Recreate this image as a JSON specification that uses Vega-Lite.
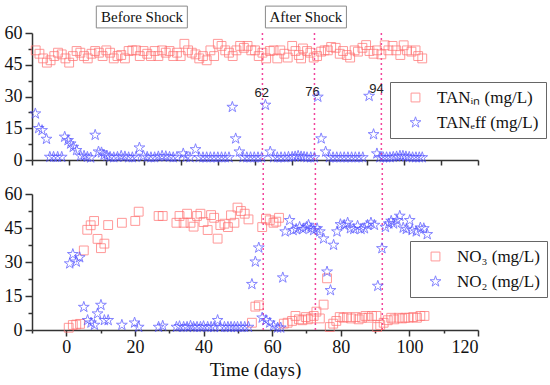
{
"$schema": "https://vega.github.io/schema/vega-lite/v6.json",
"padding": {"left": 4, "top": 5, "right": 0, "bottom": 0},
"bounds": "flush",
"spacing": 34,
"background": "white",
"config": {
  "view": {"stroke": null},
  "font": "Liberation Serif",
  "axis": {"grid": false, "domainColor": "#333", "domainWidth": 1.5, "tickColor": "#333", "tickWidth": 1.5, "labelFont": "Liberation Serif", "labelFontSize": 18, "labelColor": "#111", "titleFont": "Liberation Serif", "titleFontSize": 19, "titleFontWeight": "normal", "titleColor": "#111"},
  "legend": {"strokeColor": "#666", "fillColor": "white", "padding": 7, "labelFont": "Liberation Serif", "labelFontSize": 17, "labelColor": "#111", "symbolSize": 50, "symbolStrokeWidth": 1, "rowPadding": 7, "symbolOffset": 10, "labelOffset": 13}
},
"resolve": {"scale": {"color": "independent", "shape": "independent", "size": "independent"}, "legend": {"color": "independent", "shape": "independent", "size": "independent"}},
"datasets": {
  "boxes": [
    {"label": "Before Shock", "start": 17.3, "end": 41.8, "mid": 29.6},
    {"label": "After Shock", "start": 62.8, "end": 84.6, "mid": 73.7}
  ],
  "shocksTop": [{"day": 62}, {"day": 76}, {"day": 94}],
  "shockLabels": [
    {"label": "62", "day": 61.8, "value": 31.6},
    {"label": "76", "day": 75.5, "value": 32.1},
    {"label": "94", "day": 92.7, "value": 33.5}
  ],
  "shocksBottom": [{"day": 57.4}, {"day": 72.6}, {"day": 92.1}],
  "top": [
    {"series":"TANin","day":1,"value":51.8},{"series":"TANin","day":2,"value":50.2},{"series":"TANin","day":3,"value":48.0},{"series":"TANin","day":4,"value":46.0},{"series":"TANin","day":5,"value":47.1},{"series":"TANin","day":6,"value":49.1},{"series":"TANin","day":7,"value":50.7},{"series":"TANin","day":8,"value":49.9},{"series":"TANin","day":9,"value":48.0},{"series":"TANin","day":10,"value":46.0},
    {"series":"TANin","day":11,"value":49.1},{"series":"TANin","day":12,"value":51.5},{"series":"TANin","day":13,"value":50.7},{"series":"TANin","day":14,"value":49.1},{"series":"TANin","day":15,"value":48.0},{"series":"TANin","day":16,"value":50.2},{"series":"TANin","day":17,"value":51.5},{"series":"TANin","day":18,"value":50.7},{"series":"TANin","day":19,"value":49.1},{"series":"TANin","day":20,"value":51.8},
    {"series":"TANin","day":21,"value":50.7},{"series":"TANin","day":22,"value":48.0},{"series":"TANin","day":23,"value":49.1},{"series":"TANin","day":24,"value":49.6},{"series":"TANin","day":25,"value":48.0},{"series":"TANin","day":26,"value":51.5},{"series":"TANin","day":27,"value":51.8},{"series":"TANin","day":28,"value":51.8},{"series":"TANin","day":29,"value":49.1},{"series":"TANin","day":30,"value":51.5},
    {"series":"TANin","day":31,"value":50.2},{"series":"TANin","day":32,"value":49.1},{"series":"TANin","day":33,"value":51.5},{"series":"TANin","day":34,"value":49.1},{"series":"TANin","day":35,"value":51.8},{"series":"TANin","day":36,"value":50.7},{"series":"TANin","day":37,"value":51.5},{"series":"TANin","day":38,"value":49.1},{"series":"TANin","day":39,"value":50.7},{"series":"TANin","day":40,"value":49.1},
    {"series":"TANin","day":41,"value":54.9},{"series":"TANin","day":42,"value":51.8},{"series":"TANin","day":43,"value":50.7},{"series":"TANin","day":44,"value":49.9},{"series":"TANin","day":45,"value":48.0},{"series":"TANin","day":46,"value":49.1},{"series":"TANin","day":47,"value":47.1},{"series":"TANin","day":48,"value":51.8},{"series":"TANin","day":49,"value":49.1},{"series":"TANin","day":50,"value":54.9},
    {"series":"TANin","day":51,"value":53.9},{"series":"TANin","day":52,"value":51.8},{"series":"TANin","day":53,"value":50.7},{"series":"TANin","day":54,"value":49.1},{"series":"TANin","day":55,"value":51.8},{"series":"TANin","day":56,"value":53.9},{"series":"TANin","day":57,"value":53.0},{"series":"TANin","day":58,"value":53.9},{"series":"TANin","day":59,"value":51.8},{"series":"TANin","day":60,"value":51.8},
    {"series":"TANin","day":61,"value":49.1},{"series":"TANin","day":62,"value":50.7},{"series":"TANin","day":63,"value":48.0},{"series":"TANin","day":64,"value":51.5},{"series":"TANin","day":65,"value":51.8},{"series":"TANin","day":66,"value":48.0},
    {"series":"TANin","day":66.8,"value":51.8},{"series":"TANin","day":67.9,"value":50.2},{"series":"TANin","day":68.8,"value":48.4},{"series":"TANin","day":70.0,"value":53.9},{"series":"TANin","day":70.9,"value":51.5},{"series":"TANin","day":71.8,"value":49.6},{"series":"TANin","day":72.4,"value":48.0},{"series":"TANin","day":72.9,"value":52.7},{"series":"TANin","day":74.0,"value":51.5},{"series":"TANin","day":74.9,"value":50.7},
    {"series":"TANin","day":75.8,"value":48.4},{"series":"TANin","day":76.7,"value":49.1},{"series":"TANin","day":77.8,"value":51.2},{"series":"TANin","day":78.7,"value":51.8},{"series":"TANin","day":79.6,"value":51.8},{"series":"TANin","day":80.5,"value":53.4},{"series":"TANin","day":81.7,"value":53.0},{"series":"TANin","day":82.8,"value":50.2},{"series":"TANin","day":83.7,"value":51.5},{"series":"TANin","day":84.7,"value":49.6},
    {"series":"TANin","day":85.6,"value":48.4},{"series":"TANin","day":86.8,"value":51.8},{"series":"TANin","day":87.7,"value":51.2},{"series":"TANin","day":88.9,"value":53.0},{"series":"TANin","day":89.9,"value":54.3},{"series":"TANin","day":90.8,"value":51.5},{"series":"TANin","day":91.9,"value":50.2},{"series":"TANin","day":92.8,"value":51.8},{"series":"TANin","day":94.0,"value":49.9},{"series":"TANin","day":94.9,"value":54.2},
    {"series":"TANin","day":95.9,"value":51.8},{"series":"TANin","day":97.0,"value":53.9},{"series":"TANin","day":98.0,"value":51.8},{"series":"TANin","day":99.1,"value":49.6},{"series":"TANin","day":100.0,"value":54.2},{"series":"TANin","day":100.9,"value":51.8},{"series":"TANin","day":102.1,"value":51.2},{"series":"TANin","day":103.2,"value":51.8},{"series":"TANin","day":103.9,"value":49.1},{"series":"TANin","day":105.0,"value":48.0},
    {"series":"TANeff","day":0.9,"value":21.9},{"series":"TANeff","day":1.8,"value":15.0},{"series":"TANeff","day":2.7,"value":14.0},{"series":"TANeff","day":3.9,"value":9.9},{"series":"TANeff","day":4.8,"value":1.4},{"series":"TANeff","day":5.8,"value":1.4},{"series":"TANeff","day":6.9,"value":1.4},{"series":"TANeff","day":8.0,"value":1.4},{"series":"TANeff","day":8.8,"value":10.9},{"series":"TANeff","day":9.7,"value":9.3},
    {"series":"TANeff","day":10.4,"value":7.7},{"series":"TANeff","day":11.1,"value":6.1},{"series":"TANeff","day":12.0,"value":4.6},{"series":"TANeff","day":13.1,"value":1.9},{"series":"TANeff","day":14.0,"value":1.9},{"series":"TANeff","day":14.9,"value":1.4},{"series":"TANeff","day":15.8,"value":1.1},{"series":"TANeff","day":17.0,"value":11.8},{"series":"TANeff","day":17.9,"value":3.9},{"series":"TANeff","day":18.7,"value":3.5},
    {"series":"TANeff","day":19.4,"value":2.4},{"series":"TANeff","day":20.2,"value":1.9},{"series":"TANeff","day":21.0,"value":1.4},{"series":"TANeff","day":22,"value":1.2},{"series":"TANeff","day":23,"value":1.4},{"series":"TANeff","day":24,"value":1.9},{"series":"TANeff","day":25,"value":1.6},{"series":"TANeff","day":26,"value":1.2},{"series":"TANeff","day":27,"value":1.2},{"series":"TANeff","day":28,"value":1.4},
    {"series":"TANeff","day":28.9,"value":5.8},{"series":"TANeff","day":30,"value":1.9},{"series":"TANeff","day":31,"value":1.4},{"series":"TANeff","day":32,"value":1.2},{"series":"TANeff","day":33,"value":1.2},{"series":"TANeff","day":34,"value":1.6},{"series":"TANeff","day":35,"value":1.9},{"series":"TANeff","day":36,"value":1.7},{"series":"TANeff","day":37,"value":1.4},{"series":"TANeff","day":38,"value":1.2},
    {"series":"TANeff","day":39,"value":1.4},{"series":"TANeff","day":40.7,"value":3.0},{"series":"TANeff","day":41.5,"value":1.4},{"series":"TANeff","day":42.5,"value":1.2},{"series":"TANeff","day":44.0,"value":5.0},{"series":"TANeff","day":45,"value":1.2},{"series":"TANeff","day":46,"value":1.2},{"series":"TANeff","day":47,"value":1.2},{"series":"TANeff","day":48,"value":1.2},{"series":"TANeff","day":49,"value":1.2},
    {"series":"TANeff","day":50,"value":1.2},{"series":"TANeff","day":51,"value":1.2},{"series":"TANeff","day":52,"value":1.2},{"series":"TANeff","day":53,"value":1.2},{"series":"TANeff","day":53.9,"value":25.0},{"series":"TANeff","day":54.8,"value":10.1},{"series":"TANeff","day":55.8,"value":3.9},{"series":"TANeff","day":56.8,"value":1.2},{"series":"TANeff","day":57.8,"value":1.2},{"series":"TANeff","day":58.8,"value":1.2},
    {"series":"TANeff","day":59.8,"value":1.2},{"series":"TANeff","day":60.8,"value":1.2},{"series":"TANeff","day":61.8,"value":1.2},{"series":"TANeff","day":62.8,"value":26.0},{"series":"TANeff","day":64.1,"value":3.9},{"series":"TANeff","day":65,"value":1.2},{"series":"TANeff","day":66,"value":1.2},{"series":"TANeff","day":67,"value":1.2},{"series":"TANeff","day":68,"value":1.2},{"series":"TANeff","day":69,"value":1.4},
    {"series":"TANeff","day":70,"value":1.4},{"series":"TANeff","day":70.8,"value":1.6},{"series":"TANeff","day":71.6,"value":1.9},{"series":"TANeff","day":72.4,"value":1.6},{"series":"TANeff","day":73.2,"value":1.4},{"series":"TANeff","day":74,"value":1.2},{"series":"TANeff","day":75,"value":1.2},{"series":"TANeff","day":76,"value":1.2},{"series":"TANeff","day":76.9,"value":29.8},{"series":"TANeff","day":77.8,"value":10.1},
    {"series":"TANeff","day":79.0,"value":3.9},{"series":"TANeff","day":80,"value":1.2},{"series":"TANeff","day":81,"value":1.2},{"series":"TANeff","day":82,"value":1.2},{"series":"TANeff","day":83,"value":1.2},{"series":"TANeff","day":84,"value":1.2},{"series":"TANeff","day":85,"value":1.2},{"series":"TANeff","day":86,"value":1.2},{"series":"TANeff","day":87,"value":1.2},{"series":"TANeff","day":88,"value":1.2},
    {"series":"TANeff","day":89,"value":1.2},{"series":"TANeff","day":90.7,"value":30.2},{"series":"TANeff","day":91.9,"value":12.1},{"series":"TANeff","day":92.8,"value":3.0},{"series":"TANeff","day":93.6,"value":1.2},{"series":"TANeff","day":94.5,"value":1.2},{"series":"TANeff","day":95.4,"value":1.2},{"series":"TANeff","day":96.3,"value":1.2},{"series":"TANeff","day":97.2,"value":1.4},{"series":"TANeff","day":98.1,"value":1.6},
    {"series":"TANeff","day":99,"value":1.9},{"series":"TANeff","day":99.8,"value":1.9},{"series":"TANeff","day":100.6,"value":1.6},{"series":"TANeff","day":101.5,"value":1.4},{"series":"TANeff","day":102.4,"value":1.2},{"series":"TANeff","day":103.3,"value":1.2},{"series":"TANeff","day":104.2,"value":1.2},{"series":"TANeff","day":105,"value":1.2}
  ],
  "bottom": [
    {"series":"NO3","day":0.7,"value":1.0},{"series":"NO3","day":1.9,"value":2.2},{"series":"NO3","day":2.9,"value":2.4},{"series":"NO3","day":4.0,"value":2.7},{"series":"NO3","day":5.1,"value":35.1},{"series":"NO3","day":6.1,"value":44.2},{"series":"NO3","day":7.1,"value":46.2},{"series":"NO3","day":8.1,"value":48.1},{"series":"NO3","day":9.1,"value":40.2},{"series":"NO3","day":10.1,"value":36.1},
    {"series":"NO3","day":11.1,"value":38.1},{"series":"NO3","day":12.2,"value":46.3},{"series":"NO3","day":16.2,"value":47.3},{"series":"NO3","day":20.1,"value":48.1},{"series":"NO3","day":21.1,"value":52.2},{"series":"NO3","day":26.9,"value":50.3},{"series":"NO3","day":28.1,"value":50.3},{"series":"NO3","day":32.1,"value":47.3},{"series":"NO3","day":33.0,"value":50.3},{"series":"NO3","day":34.2,"value":47.3},
    {"series":"NO3","day":35.2,"value":51.3},{"series":"NO3","day":36.2,"value":47.3},{"series":"NO3","day":37.1,"value":45.6},{"series":"NO3","day":38.1,"value":50.3},{"series":"NO3","day":39.1,"value":51.3},{"series":"NO3","day":40.0,"value":47.6},{"series":"NO3","day":41.2,"value":44.1},{"series":"NO3","day":42.2,"value":50.7},{"series":"NO3","day":43.1,"value":49.5},{"series":"NO3","day":44.1,"value":40.3},
    {"series":"NO3","day":44.9,"value":46.3},{"series":"NO3","day":46.1,"value":46.9},{"series":"NO3","day":47.1,"value":45.4},{"series":"NO3","day":48.0,"value":50.6},{"series":"NO3","day":49.0,"value":47.3},{"series":"NO3","day":49.9,"value":54.0},{"series":"NO3","day":50.9,"value":52.5},{"series":"NO3","day":52.0,"value":51.3},{"series":"NO3","day":53.1,"value":48.8},{"series":"NO3","day":54.1,"value":3.2},
    {"series":"NO3","day":55.1,"value":10.3},{"series":"NO3","day":56.1,"value":10.9},{"series":"NO3","day":57.1,"value":45.4},{"series":"NO3","day":58.2,"value":49.1},{"series":"NO3","day":59.3,"value":48.4},{"series":"NO3","day":60.4,"value":47.3},{"series":"NO3","day":61.2,"value":47.8},{"series":"NO3","day":62.0,"value":49.5},{"series":"NO3","day":63.4,"value":2.8},{"series":"NO3","day":64.5,"value":3.2},
    {"series":"NO3","day":65.8,"value":4.0},{"series":"NO3","day":66.8,"value":6.2},{"series":"NO3","day":67.8,"value":4.7},{"series":"NO3","day":68.8,"value":4.3},{"series":"NO3","day":69.8,"value":5.7},{"series":"NO3","day":70.4,"value":4.7},{"series":"NO3","day":71.3,"value":5.1},{"series":"NO3","day":72.1,"value":6.2},{"series":"NO3","day":72.9,"value":8.1},{"series":"NO3","day":73.9,"value":5.1},
    {"series":"NO3","day":75.0,"value":11.2},{"series":"NO3","day":76.0,"value":22.8},{"series":"NO3","day":76.8,"value":1.3},{"series":"NO3","day":77.8,"value":2.8},{"series":"NO3","day":78.7,"value":4.0},{"series":"NO3","day":79.7,"value":5.7},{"series":"NO3","day":80.8,"value":5.4},{"series":"NO3","day":81.8,"value":5.7},{"series":"NO3","day":83.0,"value":5.1},{"series":"NO3","day":84.3,"value":5.7},
    {"series":"NO3","day":85.2,"value":4.7},{"series":"NO3","day":86.2,"value":5.4},{"series":"NO3","day":87.2,"value":6.2},{"series":"NO3","day":88.1,"value":5.4},{"series":"NO3","day":89.1,"value":6.2},{"series":"NO3","day":90.4,"value":6.2},{"series":"NO3","day":90.6,"value":1.3},{"series":"NO3","day":91.5,"value":2.2},{"series":"NO3","day":92.5,"value":3.2},{"series":"NO3","day":93.7,"value":4.3},
    {"series":"NO3","day":94.7,"value":5.4},{"series":"NO3","day":95.6,"value":4.7},{"series":"NO3","day":96.9,"value":5.4},{"series":"NO3","day":97.9,"value":5.1},{"series":"NO3","day":98.8,"value":5.4},{"series":"NO3","day":99.8,"value":5.4},{"series":"NO3","day":101.1,"value":5.7},{"series":"NO3","day":102.2,"value":5.4},{"series":"NO3","day":103.2,"value":6.2},{"series":"NO3","day":104.4,"value":6.2},
    {"series":"NO2","day":1.0,"value":29.3},{"series":"NO2","day":1.9,"value":33.4},{"series":"NO2","day":2.9,"value":30.1},{"series":"NO2","day":3.9,"value":32.0},{"series":"NO2","day":5.1,"value":10.1},{"series":"NO2","day":6.2,"value":4.3},{"series":"NO2","day":7.2,"value":3.2},{"series":"NO2","day":8.2,"value":2.2},{"series":"NO2","day":9.1,"value":7.2},{"series":"NO2","day":10.1,"value":11.0},
    {"series":"NO2","day":11.1,"value":4.3},{"series":"NO2","day":12.2,"value":4.3},{"series":"NO2","day":16.2,"value":2.2},{"series":"NO2","day":19.9,"value":3.2},{"series":"NO2","day":21.1,"value":1.3},{"series":"NO2","day":26.9,"value":1.3},{"series":"NO2","day":28.1,"value":1.8},{"series":"NO2","day":32.1,"value":1.3},{"series":"NO2","day":33.0,"value":1.6},{"series":"NO2","day":34.2,"value":1.3},
    {"series":"NO2","day":35.2,"value":1.3},{"series":"NO2","day":36.2,"value":1.8},{"series":"NO2","day":37.1,"value":1.3},{"series":"NO2","day":38.1,"value":1.3},{"series":"NO2","day":39.1,"value":1.3},{"series":"NO2","day":40.0,"value":1.6},{"series":"NO2","day":41.2,"value":1.3},{"series":"NO2","day":42.2,"value":1.3},{"series":"NO2","day":43.1,"value":1.3},{"series":"NO2","day":44.1,"value":4.3},
    {"series":"NO2","day":44.9,"value":1.3},{"series":"NO2","day":46.1,"value":1.3},{"series":"NO2","day":47.1,"value":1.3},{"series":"NO2","day":48.0,"value":1.3},{"series":"NO2","day":49.0,"value":1.3},{"series":"NO2","day":49.9,"value":1.3},{"series":"NO2","day":50.9,"value":1.3},{"series":"NO2","day":52.0,"value":1.3},{"series":"NO2","day":53.1,"value":1.3},{"series":"NO2","day":54.1,"value":20.2},
    {"series":"NO2","day":55.1,"value":30.1},{"series":"NO2","day":56.1,"value":36.3},{"series":"NO2","day":57.1,"value":5.4},{"series":"NO2","day":58.2,"value":4.3},{"series":"NO2","day":59.3,"value":3.2},{"series":"NO2","day":60.4,"value":1.8},{"series":"NO2","day":61.6,"value":1.0},{"series":"NO2","day":62.5,"value":1.0},{"series":"NO2","day":63.1,"value":23.1},{"series":"NO2","day":63.8,"value":43.4},
    {"series":"NO2","day":65.1,"value":48.4},{"series":"NO2","day":66.1,"value":44.0},{"series":"NO2","day":67.0,"value":44.5},{"series":"NO2","day":68.0,"value":45.4},{"series":"NO2","day":69.0,"value":44.5},{"series":"NO2","day":70.0,"value":45.4},{"series":"NO2","day":70.6,"value":46.3},{"series":"NO2","day":71.3,"value":44.8},{"series":"NO2","day":72.1,"value":44.0},{"series":"NO2","day":73.1,"value":44.8},
    {"series":"NO2","day":73.9,"value":43.4},{"series":"NO2","day":75.0,"value":40.3},{"series":"NO2","day":76.0,"value":25.7},{"series":"NO2","day":77.0,"value":17.5},{"series":"NO2","day":77.9,"value":37.5},{"series":"NO2","day":78.9,"value":43.4},{"series":"NO2","day":79.9,"value":46.6},{"series":"NO2","day":81.0,"value":46.3},{"series":"NO2","day":82.0,"value":47.3},{"series":"NO2","day":82.8,"value":44.8},
    {"series":"NO2","day":83.8,"value":44.5},{"series":"NO2","day":84.9,"value":45.9},{"series":"NO2","day":85.9,"value":44.5},{"series":"NO2","day":86.9,"value":44.8},{"series":"NO2","day":87.8,"value":46.3},{"series":"NO2","day":88.8,"value":47.3},{"series":"NO2","day":89.8,"value":46.3},{"series":"NO2","day":90.8,"value":19.4},{"series":"NO2","day":92.0,"value":36.0},{"series":"NO2","day":93.0,"value":45.4},
    {"series":"NO2","day":94.0,"value":46.9},{"series":"NO2","day":94.7,"value":48.1},{"series":"NO2","day":95.4,"value":46.9},{"series":"NO2","day":96.4,"value":48.4},{"series":"NO2","day":97.2,"value":50.3},{"series":"NO2","day":98.2,"value":45.1},{"series":"NO2","day":99.1,"value":44.5},{"series":"NO2","day":100.1,"value":48.4},{"series":"NO2","day":100.8,"value":44.0},{"series":"NO2","day":102.0,"value":43.4},
    {"series":"NO2","day":103.2,"value":45.1},{"series":"NO2","day":104.2,"value":44.8},{"series":"NO2","day":105.2,"value":42.2}
  ]
},
"vconcat": [
  {
    "width": 446, "height": 127,
    "resolve": {"axis": {"x": "independent", "y": "independent"}},
    "layer": [
      {"data": {"name": "boxes"}, "mark": {"type": "rect", "fill": "white", "stroke": "#8a8a8a", "strokeWidth": 1},
       "encoding": {
         "x": {"field": "start", "type": "quantitative", "scale": {"domain": [0, 120], "nice": false, "zero": false}, "axis": null},
         "x2": {"field": "end"},
         "y": {"datum": 62.4, "type": "quantitative", "scale": {"domain": [0, 60], "nice": false}, "axis": null},
         "y2": {"datum": 72.7}}},
      {"data": {"name": "boxes"}, "mark": {"type": "text", "fontSize": 15, "font": "Liberation Serif", "color": "#111", "baseline": "middle"},
       "encoding": {
         "x": {"field": "mid", "type": "quantitative", "scale": {"domain": [0, 120], "nice": false, "zero": false}, "axis": null},
         "y": {"datum": 67.5, "type": "quantitative", "scale": {"domain": [0, 60], "nice": false}, "axis": null},
         "text": {"field": "label"}}},
      {"data": {"name": "shocksTop"}, "mark": {"type": "rule", "color": "#f2449c", "strokeWidth": 1.5, "strokeDash": [2, 3]},
       "encoding": {
         "x": {"field": "day", "type": "quantitative", "scale": {"domain": [0, 120], "nice": false, "zero": false}, "axis": null},
         "y": {"datum": 0, "type": "quantitative", "scale": {"domain": [0, 60], "nice": false}, "axis": null},
         "y2": {"datum": 60}}},
      {"data": {"name": "shockLabels"}, "mark": {"type": "text", "font": "Liberation Sans", "fontSize": 13, "color": "#222", "baseline": "middle"},
       "encoding": {
         "x": {"field": "day", "type": "quantitative", "scale": {"domain": [0, 120], "nice": false, "zero": false}, "axis": null},
         "y": {"field": "value", "type": "quantitative", "scale": {"domain": [0, 60], "nice": false}, "axis": null},
         "text": {"field": "label"}}},
      {"data": {"name": "top"}, "mark": {"type": "point", "filled": false, "strokeWidth": 1},
       "encoding": {
         "x": {"field": "day", "type": "quantitative", "scale": {"domain": [0, 120], "nice": false, "zero": false},
               "axis": {"values": [0, 10, 20, 30, 40, 50, 60, 70, 80, 90, 100, 110, 120], "labels": false, "tickSize": 5, "title": null}},
         "y": {"field": "value", "type": "quantitative", "scale": {"domain": [0, 60], "nice": false},
               "axis": {"values": [0, 15, 30, 45, 60], "tickSize": 7, "labelPadding": 3, "title": null}},
         "color": {"field": "series", "type": "nominal", "scale": {"domain": ["TANin", "TANeff"], "range": ["#ff6e6e", "#4f4fff"]},
                   "legend": {"title": null, "orient": "none", "legendX": 358, "legendY": 49, "labelExpr": "datum.label == 'TANin' ? 'TANᵢₙ (mg/L)' : 'TANₑff (mg/L)'"}},
         "shape": {"field": "series", "type": "nominal", "scale": {"domain": ["TANin", "TANeff"], "range": ["square", "M0,-1L0.225,-0.309L0.951,-0.309L0.363,0.118L0.588,0.809L0,0.382L-0.588,0.809L-0.363,0.118L-0.951,-0.309L-0.225,-0.309Z"]},
                   "legend": {"title": null, "orient": "none", "legendX": 358, "legendY": 49, "labelExpr": "datum.label == 'TANin' ? 'TANᵢₙ (mg/L)' : 'TANₑff (mg/L)'"}},
         "size": {"field": "series", "type": "nominal", "scale": {"domain": ["TANin", "TANeff"], "range": [78, 130]}, "legend": null}}},
      {"data": {"name": "top"}, "mark": {"type": "point", "opacity": 0},
       "encoding": {
         "x": {"field": "day", "type": "quantitative", "scale": {"domain": [0, 120], "nice": false, "zero": false}, "axis": null},
         "y": {"field": "value", "type": "quantitative", "scale": {"domain": [0, 60], "nice": false},
               "axis": {"orient": "left", "values": [7.5, 22.5, 37.5, 52.5], "labels": false, "domain": false, "tickSize": 4, "title": null}}}}
    ]
  },
  {
    "width": 446, "height": 136,
    "resolve": {"axis": {"x": "independent", "y": "independent"}},
    "layer": [
      {"data": {"name": "shocksBottom"}, "mark": {"type": "rule", "color": "#f2449c", "strokeWidth": 1.5, "strokeDash": [2, 3]},
       "encoding": {
         "x": {"field": "day", "type": "quantitative", "scale": {"domain": [-10, 120], "nice": false, "zero": false}, "axis": null},
         "y": {"datum": 0, "type": "quantitative", "scale": {"domain": [0, 60], "nice": false}, "axis": null},
         "y2": {"datum": 75}}},
      {"data": {"name": "bottom"}, "mark": {"type": "point", "filled": false, "strokeWidth": 1},
       "encoding": {
         "x": {"field": "day", "type": "quantitative", "scale": {"domain": [-10, 120], "nice": false, "zero": false},
               "axis": {"values": [0, 20, 40, 60, 80, 100, 120], "tickSize": 6, "labelPadding": 2, "title": "Time (days)", "titlePadding": 4}},
         "y": {"field": "value", "type": "quantitative", "scale": {"domain": [0, 60], "nice": false},
               "axis": {"values": [0, 15, 30, 45, 60], "tickSize": 7, "labelPadding": 3, "title": null}},
         "color": {"field": "series", "type": "nominal", "scale": {"domain": ["NO3", "NO2"], "range": ["#ff6e6e", "#4f4fff"]},
                   "legend": {"title": null, "orient": "none", "legendX": 378, "legendY": 47, "labelExpr": "datum.label == 'NO3' ? 'NO₃ (mg/L)' : 'NO₂ (mg/L)'"}},
         "shape": {"field": "series", "type": "nominal", "scale": {"domain": ["NO3", "NO2"], "range": ["square", "M0,-1L0.225,-0.309L0.951,-0.309L0.363,0.118L0.588,0.809L0,0.382L-0.588,0.809L-0.363,0.118L-0.951,-0.309L-0.225,-0.309Z"]},
                   "legend": {"title": null, "orient": "none", "legendX": 378, "legendY": 47, "labelExpr": "datum.label == 'NO3' ? 'NO₃ (mg/L)' : 'NO₂ (mg/L)'"}},
         "size": {"field": "series", "type": "nominal", "scale": {"domain": ["NO3", "NO2"], "range": [78, 130]}, "legend": null}}},
      {"data": {"name": "bottom"}, "mark": {"type": "point", "opacity": 0},
       "encoding": {
         "x": {"field": "day", "type": "quantitative", "scale": {"domain": [-10, 120], "nice": false, "zero": false},
               "axis": {"orient": "bottom", "values": [-10, 10, 30, 50, 70, 90, 110], "labels": false, "domain": false, "tickSize": 3, "title": null}},
         "y": {"field": "value", "type": "quantitative", "scale": {"domain": [0, 60], "nice": false},
               "axis": {"orient": "left", "values": [7.5, 22.5, 37.5, 52.5], "labels": false, "domain": false, "tickSize": 4, "title": null}}}}
    ]
  }
]
}
